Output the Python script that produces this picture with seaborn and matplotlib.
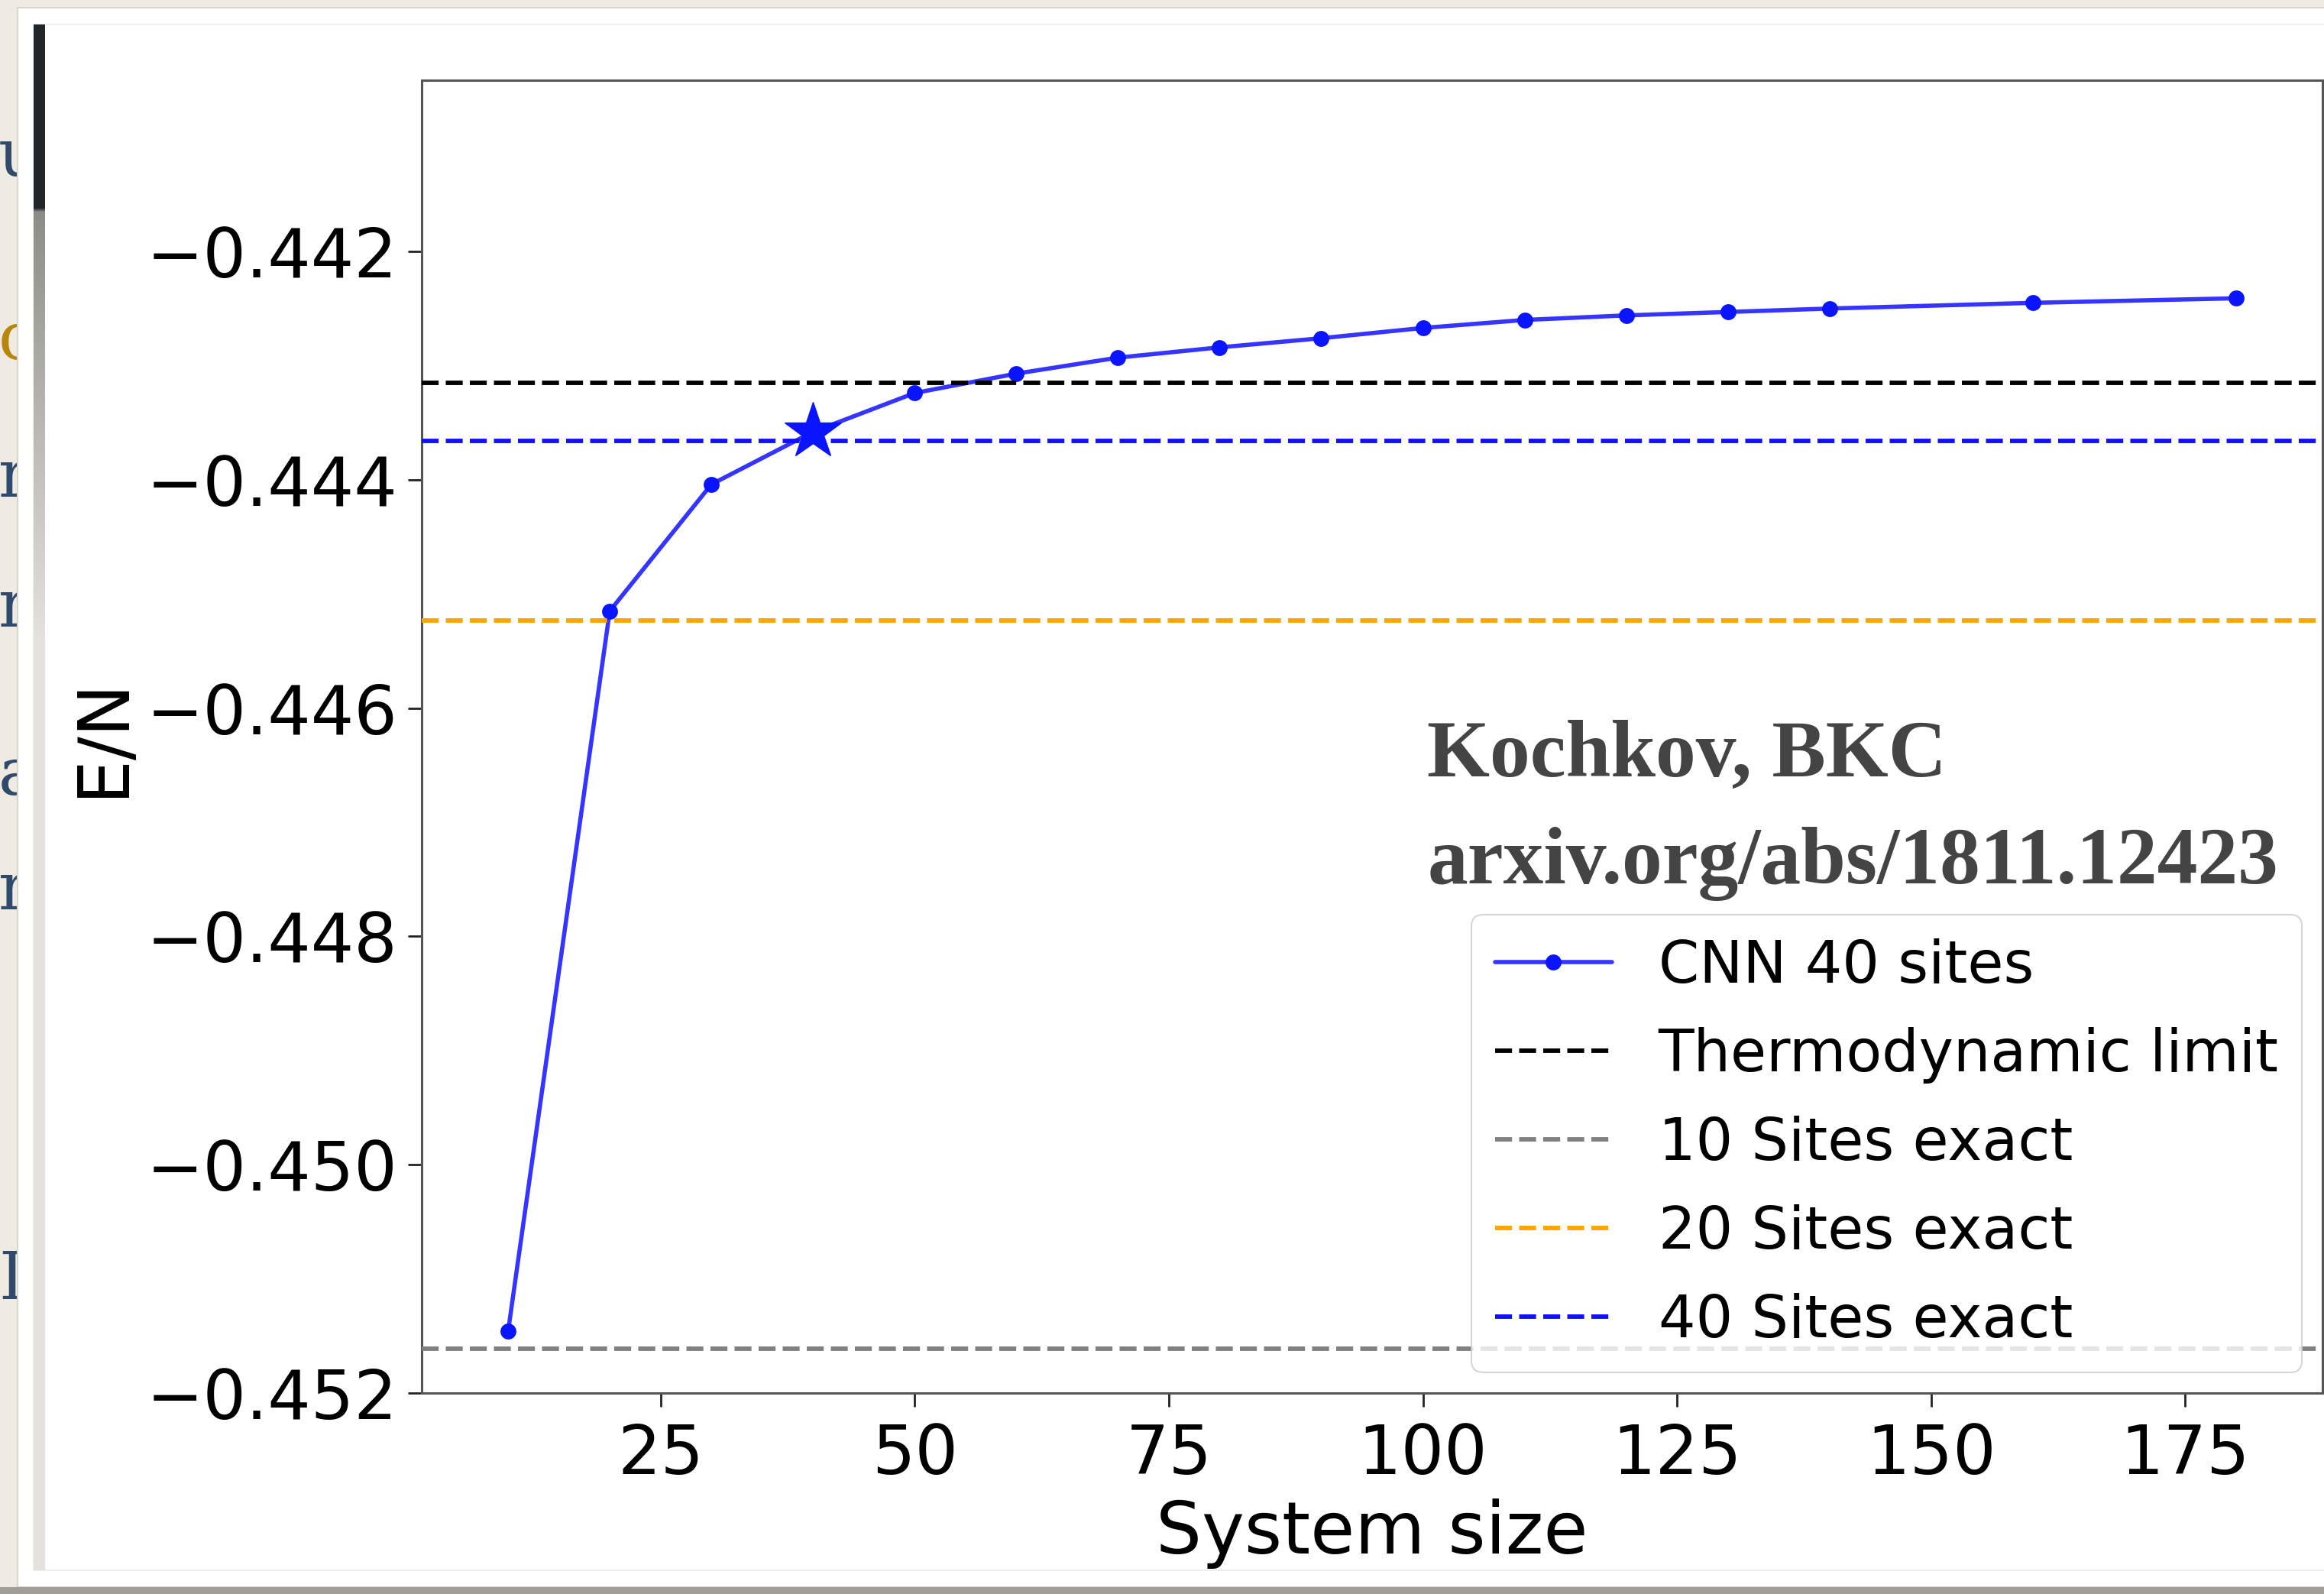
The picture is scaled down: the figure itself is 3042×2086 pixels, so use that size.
import matplotlib
matplotlib.use("Agg")
import matplotlib.pyplot as plt
import numpy as np
import pandas as pd
import seaborn as sns
from matplotlib.patches import Rectangle

# CNN energies per site vs system size
system_size = [10, 20, 30, 40, 50, 60, 70, 80, 90, 100, 110, 120, 130, 140, 160, 180]
energy = [-0.45146, -0.44515, -0.44404, -0.44358, -0.44324, -0.44307, -0.44293, -0.44284,
          -0.44276, -0.44267, -0.44260, -0.44256, -0.44253, -0.44250, -0.44245, -0.44241]

# reference energies (horizontal lines)
ref_labels = ["Thermodynamic limit", "10 Sites exact", "20 Sites exact", "40 Sites exact"]
ref_values = [-0.44315, -0.45161, -0.44523, -0.44366]
ref_colors = ["black", "gray", "orange", "#1010ff"]

star_x = [40]
star_y = [-0.44358]

yticks = [-0.452, -0.450, -0.448, -0.446, -0.444, -0.442]
xticks = [25, 50, 75, 100, 125, 150, 175]

sns.set_style("white")
plt.rcParams["font.family"] = ["DejaVu Sans"]
plt.rcParams.update({"text.color": "black", "axes.labelcolor": "black",
                     "xtick.color": "black", "ytick.color": "black"})

W, H = 3042, 2086
fig = plt.figure(figsize=(W / 100, H / 100), dpi=100)
fig.patch.set_facecolor("#efebe3")

def px_rect(x0, y0, x1, y1, **kw):
    # rectangle given in pixel coords (top-left origin)
    r = Rectangle((x0 / W, 1 - y1 / H), (x1 - x0) / W, (y1 - y0) / H,
                  transform=fig.transFigure, **kw)
    fig.add_artist(r)
    return r

# slide frame around the screenshot
for txt, yy, col in [("u", 230, "#2f4a6b"), ("c", 470, "#b8860b"), ("n", 650, "#2f4a6b"),
                     ("n", 820, "#2f4a6b"), ("a", 1040, "#2f4a6b"), ("n", 1190, "#2f4a6b"),
                     ("D", 1700, "#2f4a6b")]:
    fig.text(-2 / W, 1 - yy / H, txt, color=col, fontsize=62, family="DejaVu Serif",
             ha="left", va="baseline", zorder=0)
px_rect(23, 10, W + 5, 2077, facecolor="white", edgecolor="#d8d5d0", lw=1.5, zorder=1)
px_rect(0, 2077, W, H, facecolor="#a19e98", edgecolor="none", zorder=1)
px_rect(44, 32, W + 5, 2055, facecolor="none", edgecolor="#eeeeee", lw=1.5, zorder=1)

# thin picture strip on the left of the inner image
strip = fig.add_axes([44 / W, 1 - 2055 / H, 15 / W, (2055 - 32) / H], zorder=1)
t = np.linspace(0, 1, 400)
base = np.array([0.90, 0.89, 0.87])
grad = np.tile(base, (400, 1))
grad[t < 0.118] = [0.13, 0.15, 0.17]
mid = (t >= 0.118) & (t < 0.40)
f = ((t[mid] - 0.118) / (0.40 - 0.118))[:, None]
grad[mid] = (1 - f) * np.array([0.55, 0.55, 0.53]) + f * base
strip.imshow(grad[:, None, :], aspect="auto", interpolation="bilinear")
strip.axis("off")

# main axes
ax = fig.add_axes([552 / W, 1 - 1823 / H, (3040 - 552) / W, (1823 - 105) / H], zorder=2)
ax.set_facecolor("white")

df = pd.DataFrame({"size": system_size, "energy": energy})
sns.lineplot(data=df, x="size", y="energy", ax=ax, color="#3535ff", linewidth=4.0,
             marker="o", markersize=15, markerfacecolor="#0a14ff",
             markeredgecolor="#0a14ff", markeredgewidth=0, label="CNN 40 sites", zorder=3)

for lab, val, col in zip(ref_labels, ref_values, ref_colors):
    ax.axhline(val, color=col, linewidth=4.2, linestyle=(0, (3.8, 1.6)), label=lab, zorder=4)

ax.plot(star_x, star_y, marker="*", markersize=56, color="#0a14ff", linestyle="none", zorder=5)

ax.set_xlim(1.5, 188.5)
ax.set_ylim(-0.452, -0.4405)
ax.set_xticks(xticks)
ax.set_yticks(yticks)
ax.tick_params(axis="both", labelsize=64, length=13, width=2, color="#222222",
               direction="out", bottom=True, left=True)
ax.tick_params(axis="x", pad=14)
ax.tick_params(axis="y", pad=10)
for s in ax.spines.values():
    s.set_color("#555555")
    s.set_linewidth(2.2)

ax.set_xlabel("System size", fontsize=68, labelpad=10)
ax.set_ylabel("E/N", fontsize=66, labelpad=8)

leg = ax.legend(loc="lower right", fontsize=55, frameon=True, borderaxespad=0.35,
                labelspacing=0.55)
leg.get_frame().set_linewidth(1.5)

ax.text(0.529, 0.470, "Kochkov, BKC", transform=ax.transAxes, fontsize=76,
        family="Liberation Serif", fontweight="bold", color="#444444",
        ha="left", va="baseline", zorder=6)
ax.text(0.529, 0.388, "arxiv.org/abs/1811.12423", transform=ax.transAxes, fontsize=76,
        family="Liberation Serif", fontweight="bold", color="#444444",
        ha="left", va="baseline", zorder=6)

fig.savefig("out.png", dpi=100, facecolor=fig.get_facecolor())
